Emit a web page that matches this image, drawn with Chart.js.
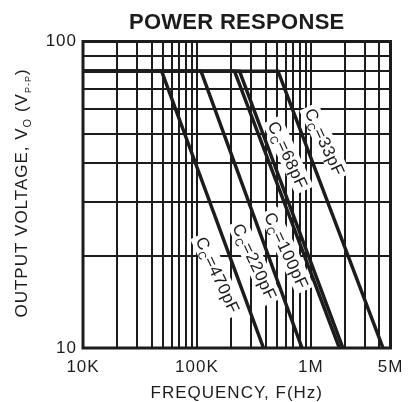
<!DOCTYPE html>
<html><head><meta charset="utf-8">
<script src="https://cdn.jsdelivr.net/npm/chart.js@4"></script>
<style>html,body{margin:0;padding:0;background:#fff;} #wrap{width:412px;height:402px;position:relative;}</style>
</head><body><div id="wrap"><canvas id="c" width="412" height="402"></canvas></div>
<script>
// ---- data ----
const capLabels = ['470pF', '220pF', '100pF', '68pF', '33pF'];
const freq470 = [10000, 49000, 384000];
const volt470 = [80, 80, 10];
const freq220 = [10000, 108600, 836000];
const volt220 = [80, 80, 10];
const freq100 = [10000, 213700, 1780000];
const volt100 = [80, 80, 10];
const freq68  = [10000, 236500, 1910000];
const volt68  = [80, 80, 10];
const freq33  = [10000, 515000, 4300000];
const volt33  = [80, 80, 10];

const xGridValues = [10000, 20000, 30000, 40000, 50000, 60000, 70000, 80000, 90000,
  100000, 200000, 300000, 400000, 500000, 600000, 700000, 800000, 900000,
  1000000, 2000000, 3000000, 4000000, 5000000];
const xTickLabels = {10000: '10K', 100000: '100K', 1000000: '1M', 5000000: '5M'};
const yGridValues = [10, 20, 30, 40, 50, 60, 70, 80, 90, 100];
const yTickLabels = {10: '10', 100: '100'};

// ---- label placement (annotation anchors in data coords) ----
const labelPlacement = {
  '470pF': {f: 153000, v: 17.3},
  '220pF': {f: 323000, v: 19.1},
  '100pF': {f: 612000, v: 20.8},
  '68pF':  {f: 630000, v: 42.6},
  '33pF':  {f: 1330000, v: 47}
};

const FONT = '"Liberation Sans", Arial, Helvetica, sans-serif';
const INK = '#1c1c1c';

function toPts(fs, vs) { return fs.map((f, i) => ({x: f, y: vs[i]})); }
const seriesData = [toPts(freq470, volt470), toPts(freq220, volt220), toPts(freq100, volt100), toPts(freq68, volt68), toPts(freq33, volt33)];

function drawSubText(ctx, parts, x, y, align) {
  let w = 0;
  parts.forEach(p => { ctx.font = p.bold ? `bold ${p.size}px ${FONT}` : `${p.size}px ${FONT}`; p.w = ctx.measureText(p.t).width; w += p.w; });
  let cx = align === 'center' ? x - w / 2 : x;
  parts.forEach(p => {
    ctx.font = p.bold ? `bold ${p.size}px ${FONT}` : `${p.size}px ${FONT}`;
    ctx.fillText(p.t, cx, y + (p.dy || 0));
    cx += p.w;
  });
  return w;
}
function measureParts(ctx, parts) {
  let w = 0;
  parts.forEach(p => { ctx.font = `${p.size}px ${FONT}`; w += ctx.measureText(p.t).width; });
  return w;
}

const decorPlugin = {
  id: 'decor',
  beforeDraw(chart) {
    chart.ctx.letterSpacing = '1px';
  },
  beforeDatasetsDraw(chart) {
    const ctx = chart.ctx;
    const xs = chart.scales.x, ys = chart.scales.y;
    const angle = 65 * Math.PI / 180;
    capLabels.forEach(name => {
      const pl = labelPlacement[name];
      const cx = xs.getPixelForValue(pl.f), cy = ys.getPixelForValue(pl.v);
      const parts = [{t: 'C', size: 17}, {t: 'C', size: 11, dy: 4}, {t: '=' + name, size: 17}];
      ctx.save();
      ctx.letterSpacing = '0.5px';
      ctx.translate(cx, cy);
      ctx.rotate(angle);
      const w = measureParts(ctx, parts);
      ctx.fillStyle = '#fff';
      ctx.fillRect(-w / 2 - 3, -10, w + 6, 20);
      ctx.fillStyle = INK;
      ctx.textBaseline = 'alphabetic';
      ctx.textAlign = 'left';
      drawSubText(ctx, parts, 0, 6, 'center');
      ctx.restore();
    });
  },
  afterDatasetsDraw(chart) {
    const ctx = chart.ctx;
    const a = chart.chartArea;
    ctx.save();
    ctx.strokeStyle = INK;
    ctx.lineWidth = 3;
    ctx.strokeRect(a.left, a.top, a.right - a.left, a.bottom - a.top);
    ctx.restore();
  },
  afterDraw(chart) {
    const ctx = chart.ctx;
    const a = chart.chartArea;
    const mid = (a.left + a.right) / 2;
    ctx.save();
    ctx.fillStyle = INK;
    ctx.textAlign = 'left';
    ctx.textBaseline = 'alphabetic';
    ctx.letterSpacing = '0.3px';
    drawSubText(ctx, [{t: 'POWER RESPONSE', size: 22, bold: true}], mid, 29, 'center');
    ctx.letterSpacing = '1px';
    drawSubText(ctx, [{t: 'FREQUENCY, F(Hz)', size: 17}], mid, 398, 'center');
    ctx.translate(27, 193);
    ctx.rotate(-Math.PI / 2);
    drawSubText(ctx, [
      {t: 'OUTPUT VOLTAGE, V', size: 17},
      {t: 'O', size: 11, dy: 4},
      {t: ' (V', size: 17},
      {t: 'P-P', size: 9, dy: 4},
      {t: ')', size: 17}
    ], 0, 0, 'center');
    ctx.restore();
  }
};

const lineStyle = {borderColor: INK, borderWidth: 3.5, pointRadius: 0, tension: 0, fill: false};

new Chart(document.getElementById('c'), {
  type: 'line',
  data: {
    datasets: capLabels.map((name, i) => Object.assign({label: 'CC=' + name, data: seriesData[i]}, lineStyle))
  },
  options: {
    responsive: false,
    animation: false,
    events: [],
    layout: {padding: {top: 41.5, right: 21.5, left: 0, bottom: 0}},
    plugins: {legend: {display: false}, tooltip: {enabled: false}, title: {display: false}},
    scales: {
      x: {
        type: 'logarithmic', min: 10000, max: 5000000,
        afterBuildTicks: s => { s.ticks = xGridValues.map(v => ({value: v})); },
        afterFit: s => { s.height = 54; },
        grid: {color: INK, lineWidth: 2, drawTicks: false},
        border: {display: false},
        ticks: {autoSkip: false, maxRotation: 0, padding: 9, color: INK,
          font: {family: FONT, size: 17},
          callback: v => xTickLabels[v] || ''}
      },
      y: {
        type: 'logarithmic', min: 10, max: 100,
        afterBuildTicks: s => { s.ticks = yGridValues.map(v => ({value: v})); },
        afterFit: s => { s.width = 83; },
        grid: {color: INK, lineWidth: 2, drawTicks: false},
        border: {display: false},
        ticks: {autoSkip: false, padding: 6, color: INK,
          font: {family: FONT, size: 17},
          callback: v => yTickLabels[v] || ''}
      }
    }
  },
  plugins: [decorPlugin]
});
</script>
</body></html>
